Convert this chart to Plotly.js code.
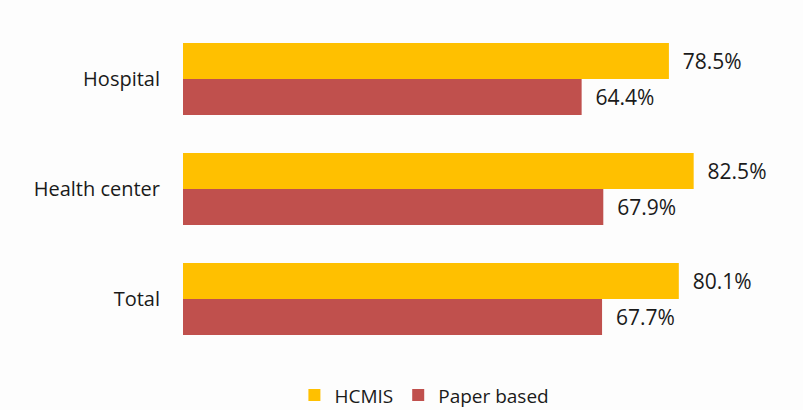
<!DOCTYPE html>
<html>
<head>
<meta charset="utf-8">
<script src="https://cdn.plot.ly/plotly-3.0.1.min.js"></script>
<style>html,body{margin:0;padding:0;background:#fdfdfd;}#chart{width:803px;height:410px;}</style>
</head>
<body>
<div id="chart"></div>
<script>
const categories = ["Hospital", "Health center", "Total"];
const hcmis = [78.5, 82.5, 80.1];
const paper = [64.4, 67.9, 67.7];
const seriesNames = ["HCMIS", "Paper based"];
const colors = ["#FFC000", "#C0504D"];

const fontFam = "'Open Sans', Lato, sans-serif";
function mk(vals, i) {
  return {
    type: "bar", orientation: "h",
    x: vals, y: categories, name: seriesNames[i],
    marker: {color: colors[i]},
    text: vals.map(v => v.toFixed(1) + "%"),
    texttemplate: "  %{text}",
    textposition: "outside",
    cliponaxis: false,
    textfont: {family: fontFam, size: 21, color: "#1a1a1a"},
    hoverinfo: "skip"
  };
}
const data = [mk(hcmis, 0), mk(paper, 1)];
const layout = {
  width: 803, height: 410,
  margin: {l: 183, r: 1, t: 24, b: 56, autoexpand: false},
  paper_bgcolor: "#fdfdfd", plot_bgcolor: "#fdfdfd",
  barmode: "group", bargap: 0.345, bargroupgap: 0,
  showlegend: true,
  legend: {orientation: "h", x: 0.39, xanchor: "center", y: -0.125, yanchor: "middle",
           font: {family: fontFam, size: 19, color: "#1a1a1a"}, traceorder: "normal"},
  xaxis: {range: [0, 100], showgrid: false, zeroline: false, showticklabels: false, showline: false, automargin: false},
  yaxis: {autorange: "reversed", showgrid: false, zeroline: false, showline: false, automargin: false,
          ticks: "", ticklabelstandoff: 22,
          tickfont: {family: fontFam, size: 20, color: "#1a1a1a"}},
  font: {family: fontFam}
};
Plotly.newPlot("chart", data, layout, {displayModeBar: false, staticPlot: true});
</script>
</body>
</html>
